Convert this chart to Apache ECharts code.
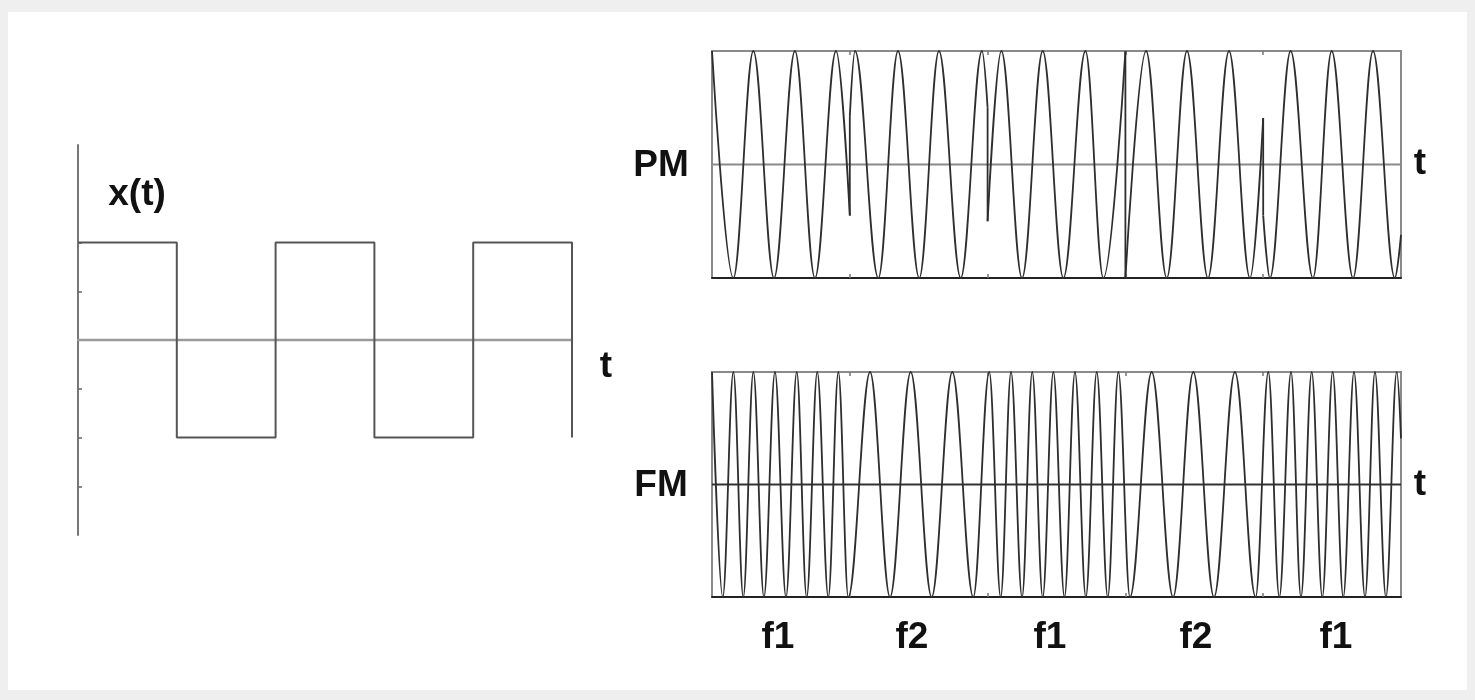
<!DOCTYPE html>
<html>
<head>
<meta charset="utf-8">
<script src="https://cdn.jsdelivr.net/npm/echarts@6/dist/echarts.min.js"></script>
<style>
  html, body { margin:0; padding:0; width:1475px; height:700px; background:#efefef; overflow:hidden; }
  #panel { position:absolute; left:8px; top:12px; width:1459px; height:678px; background:#ffffff; }
  #chart { position:absolute; left:0; top:0; width:1475px; height:700px; }
</style>
</head>
<body>
<div id="panel"></div>
<div id="chart"></div>
<script>
// ---- data ----
// message signal x(t): square wave, time in half-periods
const sqT = [0, 1, 1, 2, 2, 3, 3, 4, 4, 5, 5];
const sqX = [2, 2, -2, -2, 2, 2, -2, -2, 2, 2, -2];
const sqTicks = [-3, -2, -1, 1, 2];

// PM waveform: extrema [t, value] of each continuous piece (phase jumps at segment edges)
const pmSeg1 = [[0, 1], [0.155, -1], [0.30, 1], [0.45, -1], [0.602, 1], [0.747, -1], [0.90, 1], [1.0, -0.45]];
const pmSeg2 = [[1.0, 0.42], [1.038, 1], [1.207, -1], [1.350, 1], [1.504, -1], [1.647, 1], [1.805, -1], [1.959, 1], [2.0, 0.5]];
const pmSeg3 = [[2.0, -0.5], [2.10, 1], [2.25, -1], [2.40, 1], [2.55, -1], [2.71, 1], [2.84, -1], [3.0, 1]];
const pmSeg4 = [[3.0, -1], [3.150, 1], [3.30, -1], [3.447, 1], [3.599, -1], [3.752, 1], [3.904, -1], [4.0, 0.41]];
const pmSeg5 = [[4.0, -0.45], [4.049, -1], [4.199, 1], [4.361, -1], [4.497, 1], [4.652, -1], [4.797, 1], [4.955, -1], [5.0, -0.62]];

// FM waveform: extrema [t, value] per frequency segment (f1, f2, f1, f2, f1)
const fmSeg1 = [[0, 1], [0.078, -1], [0.155, 1], [0.227, -1], [0.300, 1], [0.377, -1], [0.457, 1], [0.537, -1], [0.615, 1], [0.687, -1], [0.764, 1], [0.844, -1], [0.917, 1], [0.989, -1]];
const fmSeg2 = [[1.147, 1], [1.292, -1], [1.442, 1], [1.594, -1], [1.744, 1], [1.896, -1]];
const fmSeg3 = [[2.012, 1], [2.095, -1], [2.170, 1], [2.250, -1], [2.324, 1], [2.400, -1], [2.477, 1], [2.558, -1], [2.634, 1], [2.713, -1], [2.792, 1], [2.872, -1], [2.949, 1]];
const fmSeg4 = [[3.033, -1], [3.191, 1], [3.346, -1], [3.493, 1], [3.643, -1], [3.795, 1], [3.945, -1]];
const fmSeg5 = [[4.037, 1], [4.117, -1], [4.202, 1], [4.274, -1], [4.352, 1], [4.429, -1], [4.504, 1], [4.581, -1], [4.659, 1], [4.739, -1], [4.811, 1], [4.891, -1], [4.969, 1], [5.0, 0.41]];

const boundaryTicks = [1, 2, 3, 4];
const signalLabel = 'x(t)';
const timeLabel = 't';
const panelLabels = ['PM', 'FM'];
const freqLabels = ['f1', 'f2', 'f1', 'f2', 'f1'];

// ---- chart ----
const chart = echarts.init(document.getElementById('chart'), null, { renderer: 'canvas' });

const WAVE = '#2e2e2e';
const FONT = 'bold 37px "Liberation Sans", Arial, sans-serif';

const pmPieces = [pmSeg1, pmSeg2, pmSeg3, pmSeg4, pmSeg5];
const fmData = [].concat(fmSeg1, fmSeg2, fmSeg3, fmSeg4, fmSeg5);

function boxX(gridIndex, pos) {
  return {
    type: 'value', gridIndex: gridIndex, min: 0, max: 5, position: pos,
    axisLine: { show: pos === 'bottom', onZero: false, lineStyle: { color: '#222', width: 1.8 } },
    axisTick: { show: true, inside: true, length: 4, customValues: boundaryTicks, lineStyle: { color: '#777', width: 1.5 } },
    axisLabel: { show: false }, splitLine: { show: false }
  };
}
function boxY(gridIndex) {
  return {
    type: 'value', gridIndex: gridIndex, min: -1, max: 1,
    axisLine: { show: false }, axisTick: { show: false },
    axisLabel: { show: false }, splitLine: { show: false }
  };
}

const series = [];
// square wave
series.push({
  type: 'line', xAxisIndex: 0, yAxisIndex: 0, symbol: 'none', silent: true,
  data: sqT.map((t, i) => [t, sqX[i]]),
  lineStyle: { color: '#555', width: 2 }
});
// PM pieces
pmPieces.forEach(function (piece) {
  series.push({
    type: 'line', xAxisIndex: 1, yAxisIndex: 1, symbol: 'none', silent: true,
    smooth: 0.364, smoothMonotone: 'x', data: piece,
    lineStyle: { color: WAVE, width: 1.8 }, z: 3
  });
});
// PM phase jumps (join end of one piece to start of next)
for (let k = 0; k < pmPieces.length - 1; k++) {
  const a = pmPieces[k][pmPieces[k].length - 1];
  const b = pmPieces[k + 1][0];
  series.push({
    type: 'line', xAxisIndex: 1, yAxisIndex: 1, symbol: 'none', silent: true,
    data: [a, b], lineStyle: { color: WAVE, width: 1.8 }, z: 3
  });
}
// PM zero line
series.push({
  type: 'line', xAxisIndex: 1, yAxisIndex: 1, symbol: 'none', silent: true,
  data: [[0, 0], [5, 0]], lineStyle: { color: '#8a8a8a', width: 2.2 }, z: 2
});
// FM
series.push({
  type: 'line', xAxisIndex: 3, yAxisIndex: 2, symbol: 'none', silent: true,
  smooth: 0.364, smoothMonotone: 'x', data: fmData,
  lineStyle: { color: WAVE, width: 1.8 }, z: 3
});
series.push({
  type: 'line', xAxisIndex: 3, yAxisIndex: 2, symbol: 'none', silent: true,
  data: [[0, 0], [5, 0]], lineStyle: { color: '#333', width: 1.8 }, z: 2
});

function txt(str, x, y) {
  return { type: 'text', x: x, y: y, z: 10, silent: true,
    style: { text: str, font: FONT, fill: '#111', align: 'center', verticalAlign: 'middle' } };
}
const freqX = [778, 912, 1050, 1196, 1336];
const graphics = [
  txt(signalLabel, 137, 195),
  txt(timeLabel, 606, 367),
  txt(panelLabels[0], 661, 166),
  txt(timeLabel, 1420, 164),
  txt(panelLabels[1], 661, 486),
  txt(timeLabel, 1420, 485)
];
freqLabels.forEach(function (s, i) { graphics.push(txt(s, freqX[i], 638)); });

chart.setOption({
  animation: false,
  backgroundColor: 'transparent',
  grid: [
    { left: 78, top: 145, width: 494, height: 390, show: false },
    { left: 712, top: 51, width: 689, height: 227, show: true, borderColor: '#8a8a8a', borderWidth: 2, backgroundColor: 'transparent' },
    { left: 712, top: 372, width: 689, height: 225, show: true, borderColor: '#8a8a8a', borderWidth: 2, backgroundColor: 'transparent' }
  ],
  xAxis: [
    { type: 'value', gridIndex: 0, min: 0, max: 5,
      axisLine: { show: true, onZero: true, lineStyle: { color: '#9a9a9a', width: 2.4 } },
      axisTick: { show: false }, axisLabel: { show: false }, splitLine: { show: false } },
    boxX(1, 'bottom'),
    boxX(1, 'top'),
    boxX(2, 'bottom'),
    boxX(2, 'top')
  ],
  yAxis: [
    { type: 'value', gridIndex: 0, min: -4, max: 4,
      axisLine: { show: true, onZero: false, lineStyle: { color: '#777', width: 2 } },
      axisTick: { show: true, inside: true, length: 4, customValues: sqTicks, lineStyle: { color: '#666', width: 1.5 } },
      axisLabel: { show: false }, splitLine: { show: false } },
    boxY(1),
    boxY(2)
  ],
  series: series,
  graphic: graphics
});
</script>
</body>
</html>
